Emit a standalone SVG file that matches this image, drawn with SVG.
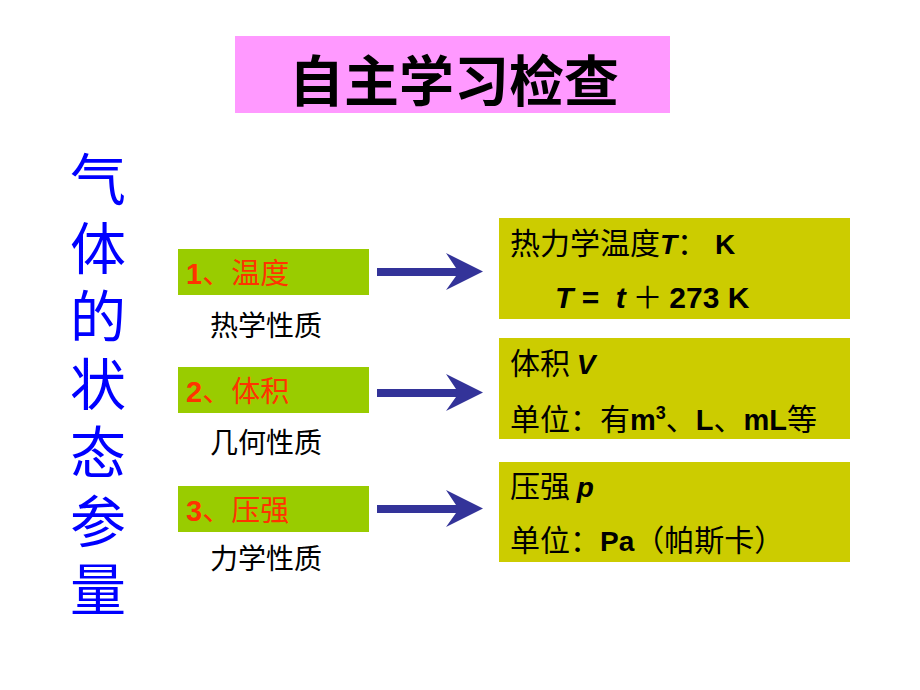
<svg xmlns="http://www.w3.org/2000/svg" width="920" height="690" viewBox="0 0 920 690">
<defs>
<style>
.cjk{font-family:"Noto Sans CJK SC","Liberation Sans",sans-serif;}
.lat{font-family:"Liberation Sans","Noto Sans CJK SC",sans-serif;font-weight:bold;}
.it{font-style:italic;}
.vt{font-family:"Noto Sans CJK SC",sans-serif;font-size:56px;fill:#0000FF;writing-mode:tb;letter-spacing:12.3px;}
.lbl{font-size:29px;fill:#FF3300;}
.sub{font-size:28px;fill:#000;}
.rt{font-size:30px;fill:#000;}
.gbox{fill:#99CC00;}
.ybox{fill:#CCCC00;}
.arr{fill:#333399;}
</style>
</defs>
<rect width="920" height="690" fill="#FFFFFF"/>

<g id="title">
<rect x="235" y="36" width="435" height="77" fill="#FF99FF"/>
<text x="454" y="101" class="cjk" font-size="55" font-weight="bold" text-anchor="middle" fill="#000">自主学习检查</text>
</g>

<g id="side-title">
<text x="98" y="151" class="vt">气体的状态参量</text>
</g>

<g id="n1">
<rect x="178" y="249" width="191" height="46" class="gbox"/>
<text x="186" y="284" class="lbl"><tspan class="lat">1</tspan><tspan class="cjk">、温度</tspan></text>
<text x="210" y="336" class="sub cjk">热学性质</text>
</g>
<g id="n2">
<rect x="178" y="367" width="191" height="46" class="gbox"/>
<text x="186" y="402" class="lbl"><tspan class="lat">2</tspan><tspan class="cjk">、体积</tspan></text>
<text x="210" y="453" class="sub cjk">几何性质</text>
</g>
<g id="n3">
<rect x="178" y="486" width="191" height="46" class="gbox"/>
<text x="186" y="521" class="lbl"><tspan class="lat">3</tspan><tspan class="cjk">、压强</tspan></text>
<text x="210" y="569" class="sub cjk">力学性质</text>
</g>

<g id="r1">
<rect x="499" y="218" width="351" height="101" class="ybox"/>
<text x="510" y="254" class="rt" xml:space="preserve"><tspan class="cjk">热力学温度</tspan><tspan class="lat it" font-size="28">T</tspan><tspan class="cjk">：</tspan><tspan class="lat" font-size="28"> K</tspan></text>
<text x="555" y="308" class="rt" font-size="28" xml:space="preserve"><tspan class="lat it">T</tspan><tspan class="lat"> =  </tspan><tspan class="lat it">t</tspan><tspan class="cjk"> ＋ </tspan><tspan class="lat">273 K</tspan></text>
</g>
<g id="r2">
<rect x="499" y="338" width="351" height="101" class="ybox"/>
<text x="510" y="374" class="rt"><tspan class="cjk">体积 </tspan><tspan class="lat it" font-size="28">V</tspan></text>
<text x="510" y="430" class="rt"><tspan class="cjk">单位：有</tspan><tspan class="lat" font-size="29">m</tspan><tspan class="lat" font-size="18" dy="-11">3</tspan><tspan class="cjk" dy="11">、</tspan><tspan class="lat" font-size="29">L</tspan><tspan class="cjk">、</tspan><tspan class="lat" font-size="29">mL</tspan><tspan class="cjk">等</tspan></text>
</g>
<g id="r3">
<rect x="499" y="462" width="351" height="100" class="ybox"/>
<text x="510" y="497" class="rt"><tspan class="cjk">压强 </tspan><tspan class="lat it" font-size="28">p</tspan></text>
<text x="510" y="551" class="rt"><tspan class="cjk">单位：</tspan><tspan class="lat" font-size="28">Pa</tspan><tspan class="cjk">（帕斯卡）</tspan></text>
</g>

<g id="connectors">
<polygon class="arr" points="377,268 456,268 446,253 483,271.5 446,290 456,276 377,276"/>
<polygon class="arr" transform="translate(0,121)" points="377,268 456,268 446,253 483,271.5 446,290 456,276 377,276"/>
<polygon class="arr" transform="translate(0,237)" points="377,268 456,268 446,253 483,271.5 446,290 456,276 377,276"/>
</g>
</svg>
